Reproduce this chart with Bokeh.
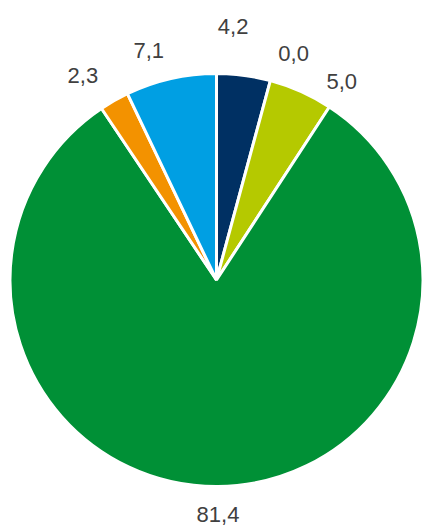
import math
from bokeh.plotting import figure
from bokeh.models import Range1d, ColumnDataSource
from bokeh.core.properties import value
from bokeh.embed import file_html
from bokeh.resources import INLINE

# data
labels = ["4,2", "0,0", "5,0", "81,4", "2,3", "7,1"]
values = [4.2, 0.0, 5.0, 81.4, 2.3, 7.1]
colors = ["#003063", "#b5c900", "#b5c900", "#009036", "#f39200", "#009fe3"]

# label layout (angular nudge in degrees, radial distance in px)
label_nudge = [-3.8, 3.7, 8.1, 0.0, -3.5, -3.7]
label_radius = [254, 239, 235, 235, 244, 239]

R = 206.5
total = sum(values)
starts, ends, lx, ly = [], [], [], []
cum = 0.0
for v, nd, lr in zip(values, label_nudge, label_radius):
    a0 = math.pi / 2 - 2 * math.pi * cum / total
    cum += v
    a1 = math.pi / 2 - 2 * math.pi * cum / total
    starts.append(a0)
    ends.append(a1)
    mid = (a0 + a1) / 2 - math.radians(nd)
    lx.append(lr * math.cos(mid))
    ly.append(lr * math.sin(mid))

keep = [i for i, v in enumerate(values) if v > 0]
wsrc = ColumnDataSource(dict(start=[starts[i] for i in keep],
                             end=[ends[i] for i in keep],
                             color=[colors[i] for i in keep]))
lsrc = ColumnDataSource(dict(lx=lx, ly=ly, label=labels))

W, H = 422, 527
p = figure(width=W, height=H, output_backend="svg", toolbar_location=None,
           x_range=Range1d(-216, 206), y_range=Range1d(-247.5, 279.5),
           min_border=0)
p.axis.visible = False
p.grid.visible = False
p.outline_line_color = None
p.background_fill_color = "white"
p.border_fill_color = "white"

p.wedge(x=0, y=0, radius=R, start_angle="start", end_angle="end",
        direction="clock", fill_color="color", line_color="white",
        line_width=3, source=wsrc)

p.text(x="lx", y="ly", text="label", source=lsrc, text_align="center",
       text_baseline="middle", text_font=value("Liberation Sans"),
       text_font_size="22px", text_color="#404040")

open("out.html", "w").write(file_html(p, INLINE))
